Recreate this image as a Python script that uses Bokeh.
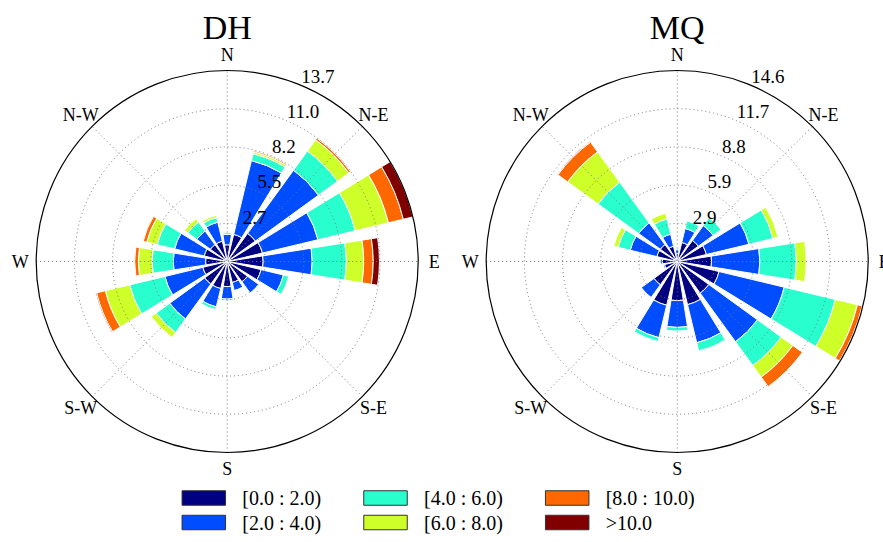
import numpy as np
from bokeh.plotting import figure
from bokeh.layouts import column, row
from bokeh.models import Range1d, ColumnDataSource
from bokeh.embed import file_html
from bokeh.resources import INLINE
from bokeh.core.properties import value

# ---------------- data ----------------
DIRECTIONS = ["N", "NNE", "NE", "ENE", "E", "ESE", "SE", "SSE",
              "S", "SSW", "SW", "WSW", "W", "WNW", "NW", "NNW"]
SPEED_LABELS = ["[0.0 : 2.0)", "[2.0 : 4.0)", "[4.0 : 6.0)",
                "[6.0 : 8.0)", "[8.0 : 10.0)", ">10.0"]
COLORS = ["#000080", "#004dff", "#29ffce", "#ceff29", "#ff6800", "#800000"]
CARDINALS = ["E", "N-E", "N", "N-W", "W", "S-W", "S", "S-E"]  # 0,45,...315 deg (math)

# frequency (%) per direction, one list per speed bin
DH_0_2 = [1.2, 2.0, 2.5, 2.6, 2.58, 2.5, 1.8, 1.55, 1.8, 2.0, 2.0, 1.8, 1.55, 1.7, 1.5, 1.5]
DH_2_4 = [0.75, 5.45, 5.6, 4.1, 3.52, 1.65, 1.0, 0.6, 0.9, 1.35, 3.1, 2.8, 2.32, 2.18, 1.2, 1.4]
DH_4_6 = [0.12, 0.5, 1.7, 2.75, 2.46, 0.4, 0.05, 0.02, 0.12, 0.2, 1.2, 2.6, 1.52, 1.29, 0.8, 0.35]
DH_6_8 = [0, 0.15, 1.0, 2.45, 1.24, 0.02, 0, 0, 0, 0, 0.45, 1.8, 0.99, 0.77, 0.3, 0.17]
DH_8_10 = [0, 0.1, 0.15, 1.1, 0.68, 0, 0, 0, 0, 0, 0.02, 0.65, 0.26, 0.26, 0.03, 0.02]
DH_10 = [0, 0.02, 0.03, 0.71, 0.45, 0, 0, 0, 0, 0, 0, 0.07, 0, 0, 0, 0]

MQ_0_2 = [0.6, 1.5, 2.0, 2.3, 2.63, 3.3, 3.0, 3.4, 3.0, 3.45, 2.2, 1.0, 1.15, 1.6, 1.6, 1.2]
MQ_2_4 = [0.3, 1.1, 1.4, 3.35, 3.7, 5.13, 4.6, 3.0, 2.05, 2.55, 1.2, 0.1, 0.15, 2.1, 2.05, 0.95]
MQ_4_6 = [0.1, 0.6, 0.75, 1.9, 2.8, 4.02, 2.25, 0.65, 0.28, 0.3, 0, 0, 0, 0.95, 3.85, 1.2]
MQ_6_8 = [0, 0, 0, 0.4, 0.75, 1.75, 1.1, 0, 0, 0, 0, 0, 0, 0.35, 2.88, 0.45]
MQ_8_10 = [0, 0, 0, 0, 0, 0.38, 0.9, 0, 0, 0, 0, 0, 0, 0, 0.92, 0]
MQ_10 = [0, 0, 0, 0, 0, 0.05, 0, 0, 0, 0, 0, 0, 0, 0, 0.05, 0]

DH_BINS = [DH_0_2, DH_2_4, DH_4_6, DH_6_8, DH_8_10, DH_10]
MQ_BINS = [MQ_0_2, MQ_2_4, MQ_4_6, MQ_6_8, MQ_8_10, MQ_10]

# ---------------- layout / style ----------------
FONT = "Liberation Serif"
R_PX = 191          # outer circle radius in pixels
LABEL_PX = 207      # cardinal label radius in pixels
TITLE_PX = 234      # title height above centre in pixels
TOTAL_H = 542
H_ROSE = 485
H_LEG = TOTAL_H - H_ROSE
OPENING = 0.8
SECTOR = 360.0 / len(DIRECTIONS)


def rose(name, bins, width, cx_px, cy_px=261):
    arr = np.array(bins, dtype=float)
    rmax = float(arr.sum(axis=0).max())
    k = rmax / R_PX
    p = figure(width=width, height=H_ROSE,
               x_range=Range1d(-cx_px * k, (width - cx_px) * k),
               y_range=Range1d(-(H_ROSE - cy_px) * k, cy_px * k),
               output_backend="svg", toolbar_location=None,
               x_axis_location=None, y_axis_location=None,
               min_border=0, outline_line_color=None)
    p.grid.visible = False

    inner, outer, start, end, color = [], [], [], [], []
    half = np.deg2rad(OPENING * SECTOR / 2)
    for i in range(len(DIRECTIONS)):
        alpha = np.deg2rad(90 - i * SECTOR)
        cum = 0.0
        for j in range(len(bins)):
            v = arr[j, i]
            if v <= 0:
                continue
            inner.append(cum)
            outer.append(cum + v)
            start.append(alpha - half)
            end.append(alpha + half)
            color.append(COLORS[j])
            cum += v
    src = ColumnDataSource(dict(inner=inner, outer=outer, start=start, end=end, color=color))
    p.annular_wedge(x=0, y=0, inner_radius="inner", outer_radius="outer",
                    start_angle="start", end_angle="end", fill_color="color",
                    line_color="white", line_width=1, source=src)

    # grid rings
    rings = [rmax * n / 5 for n in range(1, 5)]
    p.circle(x=[0] * len(rings), y=[0] * len(rings), radius=rings, fill_color=None,
             line_color="#777777", line_dash="1 3", line_width=1)
    # spokes
    angs = np.deg2rad(np.arange(0, 180, 45))
    p.segment(x0=list(-rmax * np.cos(angs)), y0=list(-rmax * np.sin(angs)),
              x1=list(rmax * np.cos(angs)), y1=list(rmax * np.sin(angs)),
              line_color="#777777", line_dash="1 3", line_width=1)
    # outer circle
    p.circle(x=[0], y=[0], radius=[rmax], fill_color=None, line_color="black", line_width=1.2)

    # radial labels
    radii = [rmax * n / 5 for n in range(1, 6)]
    ra = np.deg2rad(90 - 22.5)
    p.text(x=[r * np.cos(ra) for r in radii], y=[r * np.sin(ra) for r in radii],
           text=["%.1f" % r for r in radii], text_align="left", text_baseline="alphabetic",
           y_offset=-9, x_offset=1,
           text_font=value(FONT), text_font_size="19px", text_color="black")
    # cardinal labels
    ca = np.deg2rad(np.arange(0, 360, 45))
    rl = LABEL_PX * k
    p.text(x=list(rl * np.cos(ca)), y=list(rl * np.sin(ca)), text=CARDINALS,
           text_align="center", text_baseline="middle",
           text_font=value(FONT), text_font_size="18px", text_color="black")
    # title
    p.text(x=[0], y=[TITLE_PX * k], text=[name], text_align="center", text_baseline="middle",
           text_font=value(FONT), text_font_size="34px", text_color="black")
    return p


p1 = rose("DH", DH_BINS, 442, 226.7)
p2 = rose("MQ", MQ_BINS, 441, 676.7 - 442)

# legend
p3 = figure(width=883, height=H_LEG, x_range=Range1d(0, 883), y_range=Range1d(H_LEG, 0),
            output_backend="svg", toolbar_location=None,
            x_axis_location=None, y_axis_location=None,
            min_border=0, outline_line_color=None)
p3.grid.visible = False
n = len(SPEED_LABELS)
cols = [i // 2 for i in range(n)]
rws = [i % 2 for i in range(n)]
px = [203.3 + 181.7 * c for c in cols]
py = [497.5 - H_ROSE + 24.5 * r for r in rws]
p3.rect(x=px, y=py, width=43.5, height=14.5, fill_color=COLORS, line_color="#333333", line_width=1)
p3.text(x=[v + 38.5 for v in px], y=py, text=SPEED_LABELS, text_align="left",
        text_baseline="middle", text_font=value(FONT), text_font_size="20px", text_color="black")

layout = column(row(p1, p2), p3)
open("out.html", "w").write(file_html(layout, INLINE))
